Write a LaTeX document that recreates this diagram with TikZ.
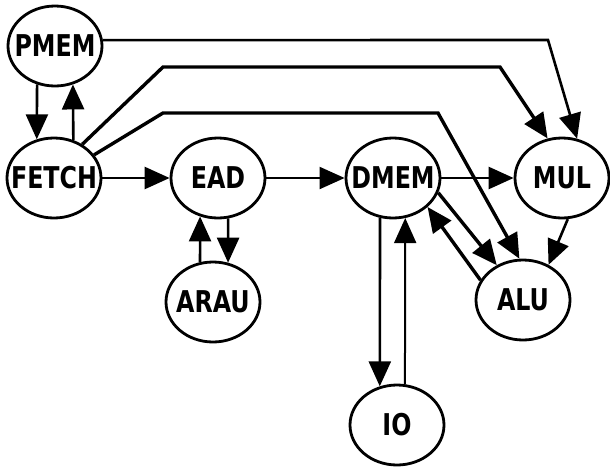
\documentclass[tikz,border=0pt]{standalone}
\usepackage{fontspec}
\setmainfont{DejaVu Sans Condensed}[FakeStretch=0.88]
\usetikzlibrary{arrows.meta,shapes.geometric}
\newcommand\ulabel[1]{\makebox[0pt][c]{#1}}
\begin{document}
\begin{tikzpicture}[x=1pt,y=-1pt,
  unit/.style={ellipse, draw, line width=2.8pt, minimum width=94pt, minimum height=80pt, inner sep=0pt,
    font=\bfseries\fontsize{30}{30}\selectfont},
  link/.style={line width=2.6pt, -{Triangle[length=25pt,width=22pt]}},
  heavy/.style={link, line width=3.4pt},
  light/.style={link, line width=2pt}]
\useasboundingbox (0,0) rectangle (610,469);
\node[unit] (PMEM)  at (55,46)   {\ulabel{PMEM}};
\node[unit] (FETCH) at (54,178)  {\ulabel{FETCH}};
\node[unit] (EAD)   at (218,178) {\ulabel{EAD}};
\node[unit] (DMEM)  at (393,178) {\ulabel{DMEM}};
\node[unit] (MUL)   at (562,178) {\ulabel{MUL}};
\node[unit] (ARAU)  at (213,302) {\ulabel{ARAU}};
\node[unit] (ALU)   at (523,300) {\ulabel{ALU}};
\node[unit] (IO)    at (397,425) {\ulabel{IO}};
% PMEM <-> FETCH
\draw[link] (PMEM.245) -- (FETCH.114);
\draw[link] (FETCH.63) -- (PMEM.295);
% long routes
\draw[link] (PMEM.7) -- (548,40) -- (MUL.69);
\draw[heavy] (FETCH.50) -- (163,67) -- (500,67) -- (MUL.110);
\draw[heavy] (FETCH.30) -- (163,113) -- (438,113) -- (ALU.95);
% main row
\draw[link] (FETCH.east) -- (EAD.west);
\draw[light] (EAD.east) -- (DMEM.west);
\draw[link] (DMEM.east) -- (MUL.west);
% EAD <-> ARAU
\draw[link] (ARAU.108) -- (EAD.245);
\draw[link] (EAD.284) -- (ARAU.69);
% DMEM <-> ALU, MUL -> ALU
\draw[heavy] (DMEM.-18) -- (ALU.127);
\draw[heavy] (ALU.155) -- (DMEM.-40);
\draw[link] (MUL.278) -- (ALU.54);
% DMEM <-> IO
\draw[link] (DMEM.252) -- (IO.114);
\draw[light] (IO.79) -- (DMEM.-73);
\end{tikzpicture}
\end{document}
